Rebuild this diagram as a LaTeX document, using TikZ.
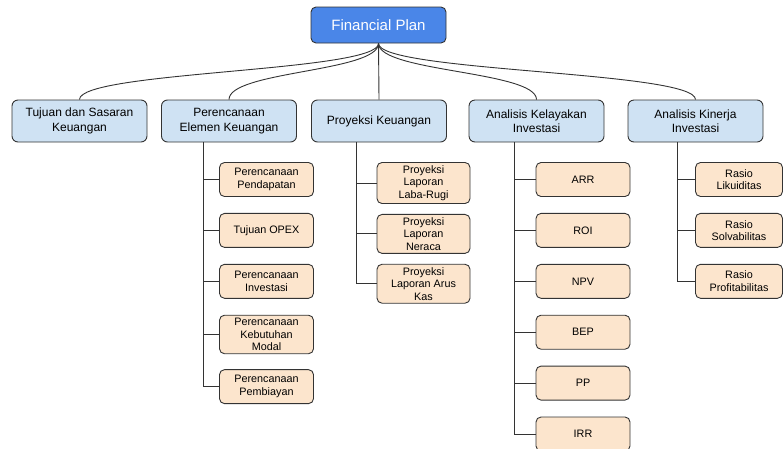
\documentclass[tikz,border=0pt]{standalone}
\usepackage{fontspec}
\setmainfont{Liberation Sans}
\usepackage{xcolor}
\usetikzlibrary{positioning}

\definecolor{planblue}{HTML}{4A86E8}
\definecolor{topicblue}{HTML}{CFE2F3}
\definecolor{subpeach}{HTML}{FCE5CD}
\definecolor{edgegray}{HTML}{333333}

\begin{document}
\begin{tikzpicture}[x=1pt,y=-1pt,line width=0.9pt,node distance=16pt]
				 \tikzstyle{root}=[draw=edgegray, fill=planblue, text=white, rounded corners=5pt, minimum width=135pt, minimum height=36pt, font=\fontsize{15}{17}\selectfont]
				 \tikzstyle{topic}=[draw=edgegray, fill=topicblue, rounded corners=6pt, minimum width=135pt, minimum height=42pt, align=center, inner sep=2pt, font=\fontsize{12}{14.5}\selectfont]
				 \tikzstyle{sub}=[draw=edgegray, fill=subpeach, rounded corners=5pt, minimum width=94pt, minimum height=34pt, align=center, inner xsep=2pt, inner ysep=3pt, font=\fontsize{10.8}{12.5}\selectfont]
				 \tikzstyle{link}=[draw=black!80, line width=0.9pt]
						\useasboundingbox (0,0) rectangle (783,448);

						\node[root] (plan) at (378.5,25) {Financial Plan};

						\node[topic] (tujuan) at (79.5,121) {Tujuan dan Sasaran\\Keuangan};
						\node[topic] (elemen) at (229,121) {Perencanaan\\Elemen Keuangan};
						\node[topic] (proyeksi) at (379,121) {Proyeksi Keuangan};
						\node[topic] (kelayakan) at (536.5,121) {Analisis Kelayakan\\Investasi};
						\node[topic] (kinerja) at (695.5,121) {Analisis Kinerja\\Investasi};

						% perencanaan elemen
						\node[sub] (pendapatan) at (266.5,179.5) {Perencanaan\\Pendapatan};
						\node[sub] (opex) [below=of pendapatan] {Tujuan OPEX};
						\node[sub] (investasi) [below=of opex] {Perencanaan\\Investasi};
						\node[sub] (modal) [below=of investasi] {Perencanaan\\Kebutuhan\\Modal};
						\node[sub] (pembiayaan) [below=15pt of modal] {Perencanaan\\Pembiayan};

						% proyeksi
						\node[sub, minimum width=93pt] (labarugi) at (423.5,183) {Proyeksi\\Laporan\\Laba-Rugi};
						\node[sub, minimum width=93pt] (neraca) [below=10pt of labarugi] {Proyeksi\\Laporan\\Neraca};
						\node[sub, minimum width=93pt] (aruskas) [below=10pt of neraca] {Proyeksi\\Laporan Arus\\Kas};

						% kelayakan
						\node[sub] (arr) at (583,179.5) {ARR};
						\node[sub] (roi) [below=of arr] {ROI};
						\node[sub] (npv) [below=of roi] {NPV};
						\node[sub] (bep) [below=of npv] {BEP};
						\node[sub] (pp) [below=of bep] {PP};
						\node[sub] (irr) [below=of pp] {IRR};

						% kinerja
						\node[sub, minimum width=87pt] (likuiditas) at (739,179.5) {Rasio\\Likuiditas};
						\node[sub, minimum width=87pt] (solvabilitas) [below=of likuiditas] {Rasio\\Solvabilitas};
						\node[sub, minimum width=87pt] (profitabilitas) [below=of solvabilitas] {Rasio\\Profitabilitas};

						\foreach \t in {tujuan,elemen,proyeksi,kelayakan,kinerja}
							\draw[link] (plan.south) .. controls +(0,28.5) and +(0,-28.5) .. (\t.north);

						\coordinate (elemenroot) at (203,142);
						\coordinate (proyeksiroot) at (356,142);
						\coordinate (kelayakanroot) at (514,142);
						\coordinate (kinerjaroot) at (677,142);

						\foreach \s in {pendapatan,opex,investasi,modal,pembiayaan}
							\draw[link] (elemenroot) |- (\s.west);
						\foreach \s in {labarugi,neraca,aruskas}
							\draw[link] (proyeksiroot) |- (\s.west);
						\foreach \s in {arr,roi,npv,bep,pp,irr}
							\draw[link] (kelayakanroot) |- (\s.west);
						\foreach \s in {likuiditas,solvabilitas,profitabilitas}
							\draw[link] (kinerjaroot) |- (\s.west);

 				\end{tikzpicture}
\end{document}
